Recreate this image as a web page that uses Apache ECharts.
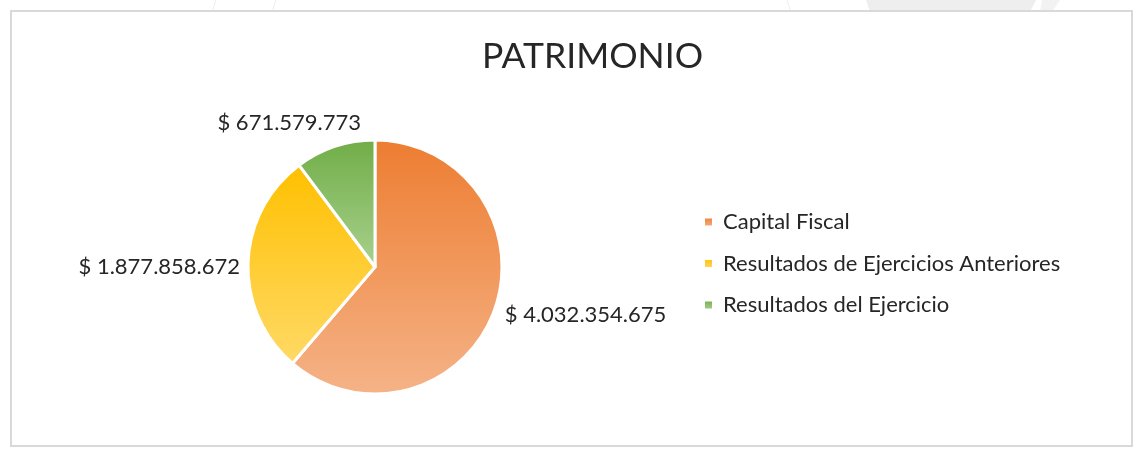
<!DOCTYPE html>
<html>
<head>
<meta charset="utf-8">
<title>PATRIMONIO</title>
<script src="https://cdn.jsdelivr.net/npm/echarts@6/dist/echarts.min.js"></script>
<style>
  html, body { margin: 0; padding: 0; background: #ffffff; }
  #chart { width: 1135px; height: 449px; }
</style>
</head>
<body>
<div id="chart"></div>
<script>
// Equity breakdown
const categories = ['Capital Fiscal', 'Resultados de Ejercicios Anteriores', 'Resultados del Ejercicio'];
const values = [4032354675, 1877858672, 671579773];

// Vertical gradient per slice: [top colour, bottom colour]
const sliceColors = [
  ['#ED7D31', '#F5B387'],
  ['#FFC000', '#FFD966'],
  ['#70AD47', '#A9D18E']
];

// Per-slice nudge of the outside labels
const labelOffsets = [[0, 2], [3, 4], [33, -18]];

const FONT = 'Lato';
const TEXT = '#262626';

function money(v) {
  return '$ ' + String(v).replace(/\B(?=(\d{3})+(?!\d))/g, '.');
}

function grad(c) {
  return new echarts.graphic.LinearGradient(0, 0, 0, 1, [
    { offset: 0, color: c[0] },
    { offset: 1, color: c[1] }
  ]);
}

const data = categories.map((name, i) => ({
  name: name,
  value: values[i],
  itemStyle: { color: grad(sliceColors[i]) },
  label: { offset: labelOffsets[i] }
}));

const chart = echarts.init(document.getElementById('chart'), null, { renderer: 'canvas' });

chart.setOption({
  animation: false,
  backgroundColor: '#ffffff',
  graphic: [
    // slide decorations above the chart frame
    { type: 'polygon', z: -10, shape: { points: [[866, 0], [1036, 0], [1030, 12], [870, 12]] }, style: { fill: '#eeeeee' } },
    { type: 'polygon', z: -10, shape: { points: [[1042, 0], [1060, 0], [1052, 12], [1040, 12]] }, style: { fill: '#f2f2f2' } },
    { type: 'line', z: -10, shape: { x1: 216, y1: 0, x2: 212, y2: 12 }, style: { stroke: '#eeeeee', lineWidth: 1 } },
    { type: 'line', z: -10, shape: { x1: 276, y1: 0, x2: 272, y2: 12 }, style: { stroke: '#eeeeee', lineWidth: 1 } },
    { type: 'line', z: -10, shape: { x1: 787, y1: 0, x2: 791, y2: 12 }, style: { stroke: '#eeeeee', lineWidth: 1 } },
    // chart frame
    { type: 'rect', z: -5, shape: { x: 11, y: 11, width: 1121, height: 435 }, style: { fill: '#ffffff', stroke: '#d9d9d9', lineWidth: 2 } }
  ],
  title: {
    text: 'PATRIMONIO',
    left: 477,
    top: 34,
    textStyle: { fontFamily: FONT, fontSize: 35.5, fontWeight: 'normal', color: TEXT }
  },
  legend: {
    orient: 'vertical',
    left: 698,
    top: 206,
    itemWidth: 9,
    itemHeight: 9,
    itemGap: 19.5,
    icon: 'rect',
    data: categories,
    textStyle: { fontFamily: FONT, fontSize: 22, color: TEXT, padding: [0, 0, 0, 5] }
  },
  series: [{
    type: 'pie',
    center: [375, 267],
    radius: 127,
    startAngle: 90,
    clockwise: true,
    data: data,
    itemStyle: { borderColor: '#ffffff', borderWidth: 3 },
    label: {
      show: true,
      position: 'outside',
      formatter: p => money(p.value),
      fontFamily: FONT,
      fontSize: 22,
      color: TEXT
    },
    labelLine: { show: false, length: 6, length2: 0 },
    emphasis: { disabled: true }
  }]
});
</script>
</body>
</html>
